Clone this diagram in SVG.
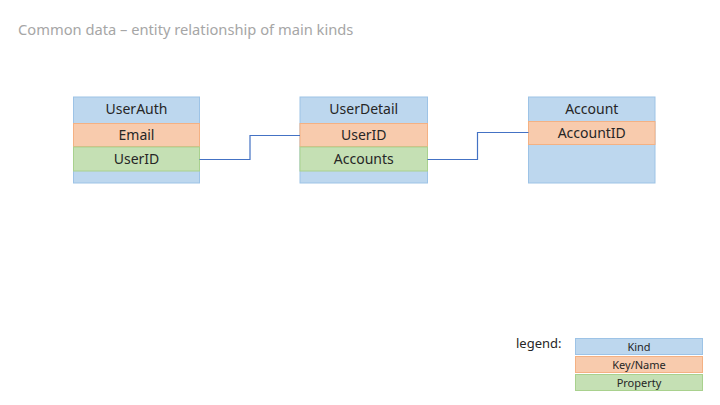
<svg xmlns="http://www.w3.org/2000/svg" width="720" height="405" viewBox="0 0 720 405">
<style>
text{font-family:"Noto Sans","Liberation Sans",sans-serif;fill:#262626}
.kind{fill:#BDD7EE;stroke:#9DC3E6;stroke-width:1}
.key{fill:#F8CBAD;stroke:#F4B183;stroke-width:1}
.prop{fill:#C5E0B4;stroke:#A9D18E;stroke-width:1}
.t{font-size:14px;text-anchor:middle}
.lt{font-size:11px;text-anchor:middle}
.conn{fill:none;stroke:#4472C4;stroke-width:1.2}
</style>
<rect width="720" height="405" fill="#fff"/>
<text x="18" y="35" style="font-size:14.7px;fill:#A6A6A6">Common data – entity relationship of main kinds</text>
<g id="UserAuth">
<rect class="kind" x="73.5" y="97" width="126" height="86"/>
<rect class="key" x="73.5" y="123.5" width="126" height="23"/>
<rect class="prop" x="73.5" y="147" width="126" height="24"/>
<text class="t" x="136.5" y="114">UserAuth</text>
<text class="t" x="136.5" y="140">Email</text>
<text class="t" x="136.5" y="164">UserID</text>
</g>
<g id="UserDetail">
<rect class="kind" x="300" y="97" width="127.5" height="86"/>
<rect class="key" x="300" y="123.5" width="127.5" height="23"/>
<rect class="prop" x="300" y="147" width="127.5" height="24"/>
<text class="t" x="363.75" y="114">UserDetail</text>
<text class="t" x="363.75" y="140">UserID</text>
<text class="t" x="363.75" y="164">Accounts</text>
</g>
<g id="Account">
<rect class="kind" x="528.5" y="97" width="126.5" height="86"/>
<rect class="key" x="528.5" y="121.5" width="126.5" height="23"/>
<text class="t" x="591.75" y="114">Account</text>
<text class="t" x="591.75" y="137.5">AccountID</text>
</g>
<g id="connectors">
<path class="conn" d="M199.5,159.5 H250 V135.5 H300"/>
<path class="conn" d="M427.5,159.5 H477.5 V132.5 H528.5"/>
</g>
<g id="legend">
<text x="516" y="348" style="font-size:13px">legend:</text>
<rect class="kind" x="575.5" y="338.5" width="127" height="16"/>
<rect class="key" x="575.5" y="356.5" width="127" height="16"/>
<rect class="prop" x="575.5" y="374.5" width="127" height="16"/>
<text class="lt" x="639" y="350.5">Kind</text>
<text class="lt" x="639" y="368.5">Key/Name</text>
<text class="lt" x="639" y="386.5">Property</text>
</g>
</svg>
